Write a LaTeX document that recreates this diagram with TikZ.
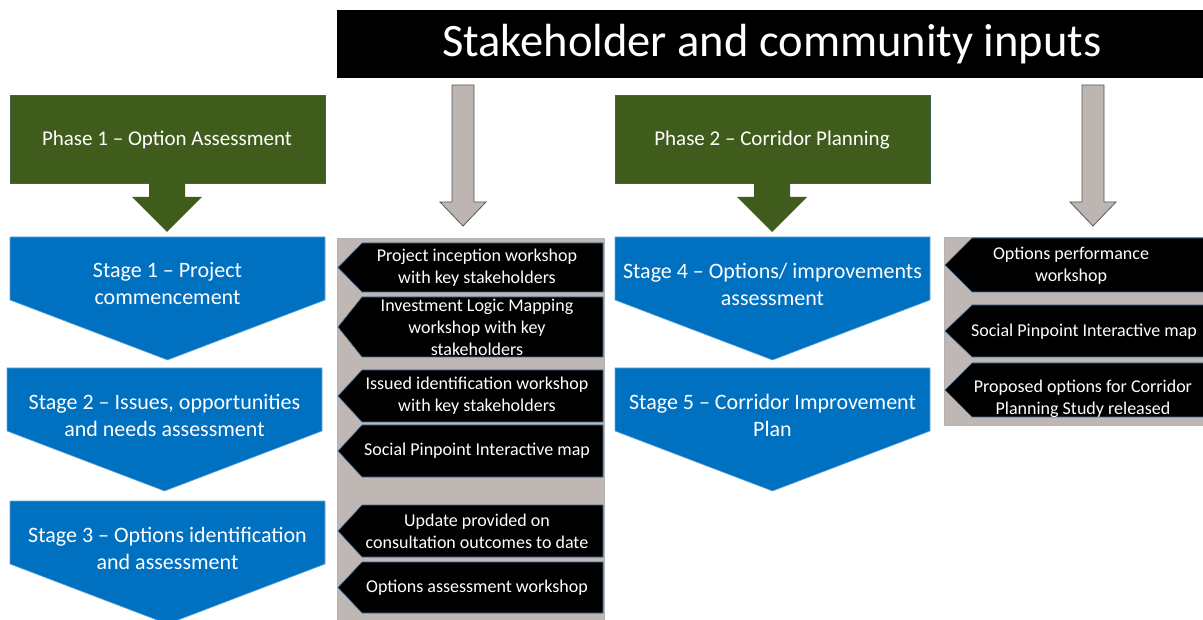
\documentclass[tikz,border=0pt]{standalone}
\usepackage{fontspec}
\setmainfont{Carlito}
\definecolor{phasegreen}{RGB}{64,92,28}
\definecolor{stageblue}{RGB}{0,112,192}
\definecolor{panelgrey}{RGB}{190,183,179}
\definecolor{inputgrey}{RGB}{189,181,177}
\definecolor{edgeblue}{RGB}{65,113,156}

\begin{document}
\begin{tikzpicture}[x=1pt, y=-1pt,
    phase/.style={fill=phasegreen, draw=edgeblue!40!phasegreen, line width=0.6pt},
    stage/.style={fill=stageblue, draw=stageblue!60!white, line width=0.6pt},
    input/.style={fill=inputgrey, draw=black!65, line width=0.8pt},
    panel/.style={fill=panelgrey, draw=black!30, line width=0.6pt},
    event/.style={fill=black, draw=edgeblue, line width=0.6pt},
    wtext/.style={text=white, align=center, inner sep=0pt},
    eventfont/.style={font=\fontsize{18}{22}\selectfont},
    font=\fontsize{22}{27}\selectfont]
    %Bildbereich
    \fill[white] (0,0) rectangle (1203,620);
    \useasboundingbox (0,0) rectangle (1203,620);
    %Titelbalken
    \fill[black] (337,10) rectangle (1204,78);
    \node[wtext, font=\fontsize{46.5}{50}\selectfont] (inputs) at (772,44) {Stakeholder and community inputs};
    %Phasen mit Pfeilen
    \foreach \c/\txt [count=\i] in {167/{Phase 1 – Option Assessment}, 772/{Phase 2 – Corridor Planning}} {
        \path[phase] ({\c-157},95) rectangle ({\c+158},183);
        \fill[phasegreen] ({\c-18},182) -- ({\c-18},197) -- ({\c-35},197) -- (\c,232)
            -- ({\c+35},197) -- ({\c+18},197) -- ({\c+18},182) -- cycle;
        \node[wtext, font=\fontsize{21}{24}\selectfont] (phase\i) at (\c,140) {\txt};
    }
    %Stufen
    \foreach \l/\r/\t/\txt [count=\i] in {10/325/237/{Stage 1 – Project\\commencement},
        7/322/368/{Stage 2 – Issues, opportunities\\and needs assessment},
        10/325/501/{Stage 3 – Options identification\\and assessment},
        615/930/237/{Stage 4 – Options/ improvements\\assessment},
        615/930/368/{Stage 5 – Corridor Improvement\\Plan}} {
        \path[stage] (\l,\t) -- (\r,\t) -- (\r,\t+63) -- ({(\l+\r)/2},\t+123) -- (\l,\t+63) -- cycle;
        \node[wtext] (stage\i) at ({(\l+\r)/2},\t+47) {\txt};
    }
    %graue Pfeile
    \foreach \c in {463,1093}
        \path[input] ({\c-11},85) -- ({\c+11},85) -- ({\c+11},202) -- ({\c+23},202) -- (\c,226)
            -- ({\c-23},202) -- ({\c-11},202) -- cycle;
    %Hintergrund der Beteiligung
    \path[panel] (337,238) rectangle (604,622);
    \path[panel] (944,237) rectangle (1205,425);
    %Veranstaltungen Phase 1
    \foreach \t/\b/\txt [count=\i] in {243/292/{Project inception workshop\\with key stakeholders},
        297/357/{Investment Logic Mapping\\workshop with key\\stakeholders},
        370/422/{Issued identification workshop\\with key stakeholders},
        425/477/{Social Pinpoint Interactive map},
        505/557/{Update provided on\\consultation outcomes to date},
        562/613/{Options assessment workshop}} {
        \path[event] (603,\t) -- (362,\t) -- (338,{(\t+\b)/2}) -- (362,\b) -- (603,\b) -- cycle;
        \node[wtext, eventfont] (links\i) at (477,{(\t+\b)/2}) {\txt};
    }
    %Veranstaltungen Phase 2
    \foreach \t/\b/\x/\y/\txt [count=\i] in {238/292/1071/266/{Options performance\\workshop},
        305/357/1084/332/{Social Pinpoint Interactive map},
        363/417/1083/399/{Proposed options for Corridor\\Planning Study released}} {
        \path[event] (1206,\t) -- (972,\t) -- (945,{(\t+\b)/2}) -- (972,\b) -- (1206,\b) -- cycle;
        \node[wtext, eventfont] (rechts\i) at (\x,\y) {\txt};
    }
\end{tikzpicture}
\end{document}
